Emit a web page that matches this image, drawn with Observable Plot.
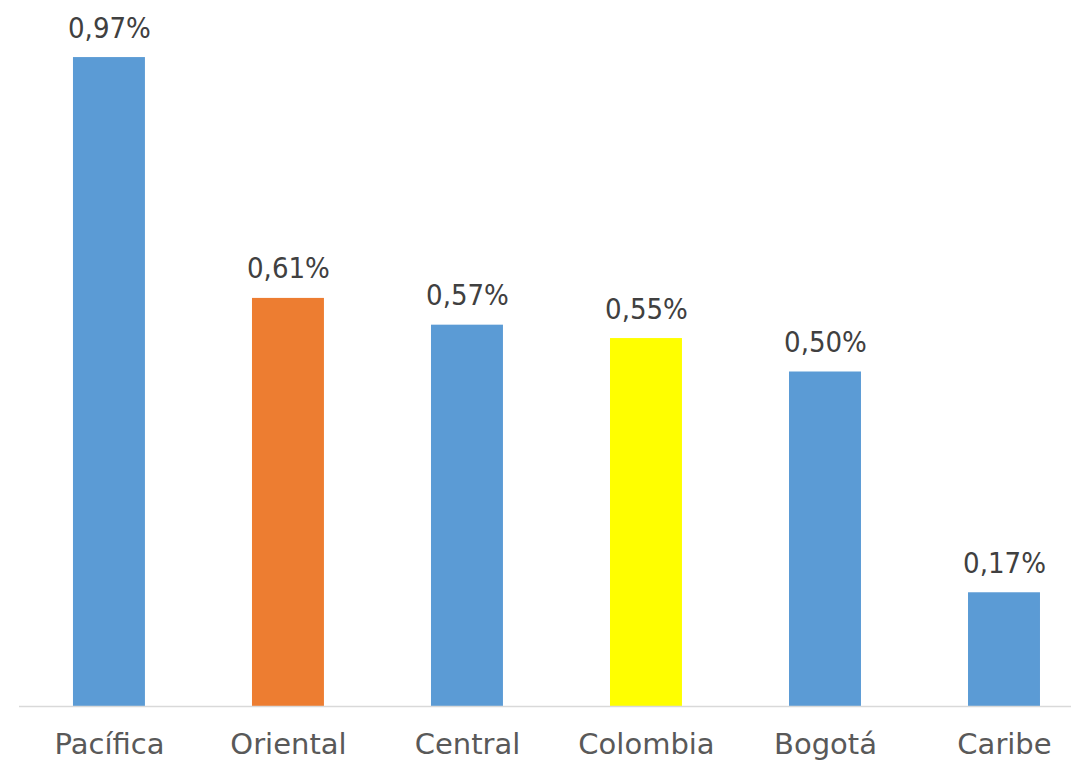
<!DOCTYPE html>
<html>
<head>
<meta charset="utf-8">
<script src="https://cdn.jsdelivr.net/npm/d3@7"></script>
<script src="https://cdn.jsdelivr.net/npm/@observablehq/plot@0.6"></script>
<style>
  html, body { margin: 0; padding: 0; background: #ffffff; }
  #chart svg { display: block; }
</style>
</head>
<body>
<div id="chart"></div>
<script>
const categories = ["Pacífica", "Oriental", "Central", "Colombia", "Bogotá", "Caribe"];
const values = [0.97, 0.61, 0.57, 0.55, 0.50, 0.17];
const colors = ["#5b9bd5", "#ed7d31", "#5b9bd5", "#ffff00", "#5b9bd5", "#5b9bd5"];

const data = categories.map((c, i) => ({category: c, value: values[i], color: colors[i]}));
const fmt = v => v.toFixed(2).replace(".", ",") + "%";

const chart = Plot.plot({
  width: 1071,
  height: 761,
  marginTop: 37,
  marginBottom: 55,
  marginLeft: 19,
  marginRight: 0,
  style: {background: "#ffffff", overflow: "visible"},
  x: {domain: categories, paddingInner: 0.598, paddingOuter: 0.2374, align: 0.635, round: false, label: null},
  y: {domain: [0, 1.0], axis: null},
  marks: [
    Plot.barY(data, {x: "category", y: "value", fill: "color"}),
    Plot.ruleY([0], {stroke: "#d9d9d9", strokeWidth: 1.5}),
    Plot.text(data, {
      x: "category", y: "value", text: d => fmt(d.value),
      lineAnchor: "bottom", dy: -20,
      fontFamily: "DejaVu Sans Condensed", fontSize: 29, fill: "#404040"
    }),
    Plot.axisX({
      tickSize: 0, tickPadding: 27, fontSize: 29,
      fontFamily: "DejaVu Sans", fill: "#595959", label: null
    })
  ]
});
document.getElementById("chart").appendChild(chart);
</script>
</body>
</html>
